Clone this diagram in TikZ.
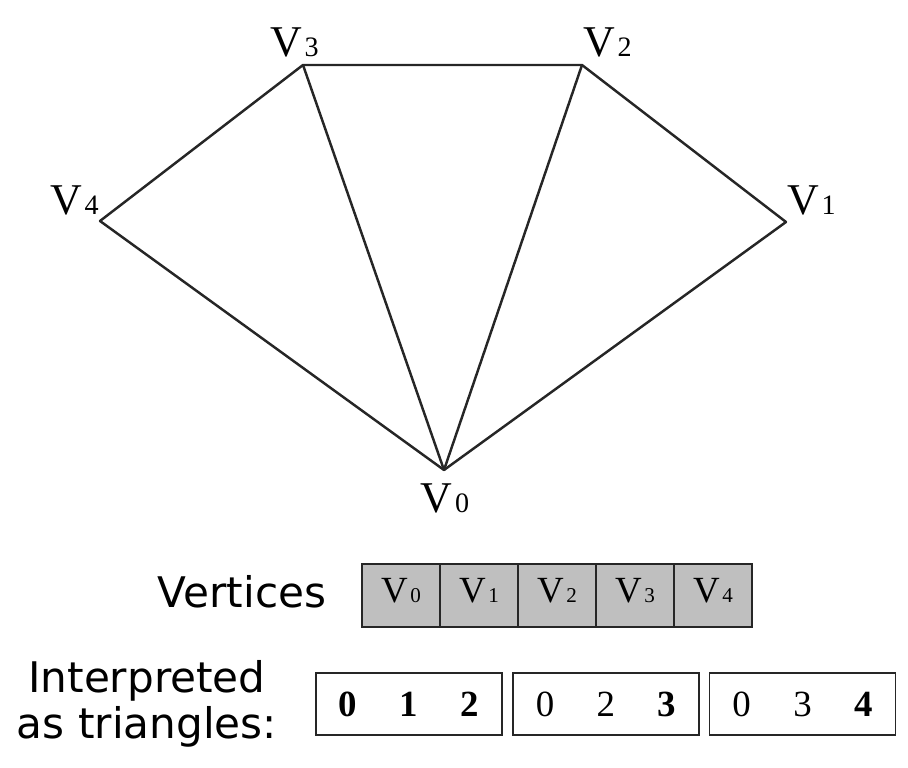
\documentclass[tikz,border=0pt]{standalone}
\usepackage{fontspec}
\setmainfont{Liberation Serif}
\setsansfont{DejaVu Sans}
\usetikzlibrary{positioning}
\newcommand{\vtx}[2][16pt]{V\kern1.5pt{\fontsize{#1}{#1}\selectfont #2}}
\newcommand{\tri}[3]{\makebox[1.22cm]{#1}\makebox[1.22cm]{#2}\makebox[1.22cm]{#3}}
\tikzset{
  edge/.style={line width=1.4pt, draw=black!85, line join=round},
  vlabel/.style={inner sep=0pt, font=\fontsize{25}{25}\selectfont},
  cell/.style={draw=black!85, line width=0.9pt, fill=black!25, minimum width=1.56cm, minimum height=1.26cm, inner sep=0pt, text depth=0.2cm, font=\fontsize{21}{21}\selectfont},
  tribox/.style={draw=black!85, line width=0.9pt, minimum width=3.72cm, minimum height=1.24cm, inner sep=0pt, font=\fontsize{21}{21}\selectfont},
  caption/.style={align=center, inner sep=0pt, font=\sffamily\fontsize{24}{26.5}\selectfont}
}
\begin{document}
\begin{tikzpicture}
\useasboundingbox (0,0) rectangle (18.16,15.36);
\coordinate (v0) at (8.88,5.96); \coordinate (v1) at (15.72,10.92); \coordinate (v2) at (11.64,14.06);
\coordinate (v3) at (6.06,14.06); \coordinate (v4) at (2.00,10.94);
\draw[edge] (v0) -- (v1) -- (v2) -- (v3) -- (v4) -- cycle;
\draw[edge] (v3) -- (v0) -- (v2);
\node[vlabel, below=0.26cm of v0, xshift=0.02cm] (l0) {\vtx{0}};
\node[vlabel, above right=0.12cm and 0.02cm of v1] (l1) {\vtx{1}};
\node[vlabel, above right=0.14cm and 0.02cm of v2] (l2) {\vtx{2}};
\node[vlabel, above=0.14cm of v3, xshift=-0.17cm] (l3) {\vtx{3}};
\node[vlabel, above left=0.1cm and 0.02cm of v4] (l4) {\vtx{4}};

\node[cell] (c0) at (8.02,3.45) {\vtx[12pt]{0}};
\node[cell] (c1) at (9.58,3.45) {\vtx[12pt]{1}};
\node[cell] (c2) at (11.14,3.45) {\vtx[12pt]{2}};
\node[cell] (c3) at (12.70,3.45) {\vtx[12pt]{3}};
\node[cell] (c4) at (14.26,3.45) {\vtx[12pt]{4}};
\node[caption] (vert) at (4.84,3.52) {Vertices};

\node[tribox] (t0) at (8.18,1.28) {\tri{\textbf{0}}{\textbf{1}}{\textbf{2}}};
\node[tribox] (t1) at (12.12,1.28) {\tri{0}{2}{\textbf{3}}};
\node[tribox] (t2) at (16.05,1.28) {\tri{0}{3}{\textbf{4}}};
\node[caption] (interp) at (2.94,1.28) {Interpreted\\as triangles:};
\end{tikzpicture}
\end{document}
